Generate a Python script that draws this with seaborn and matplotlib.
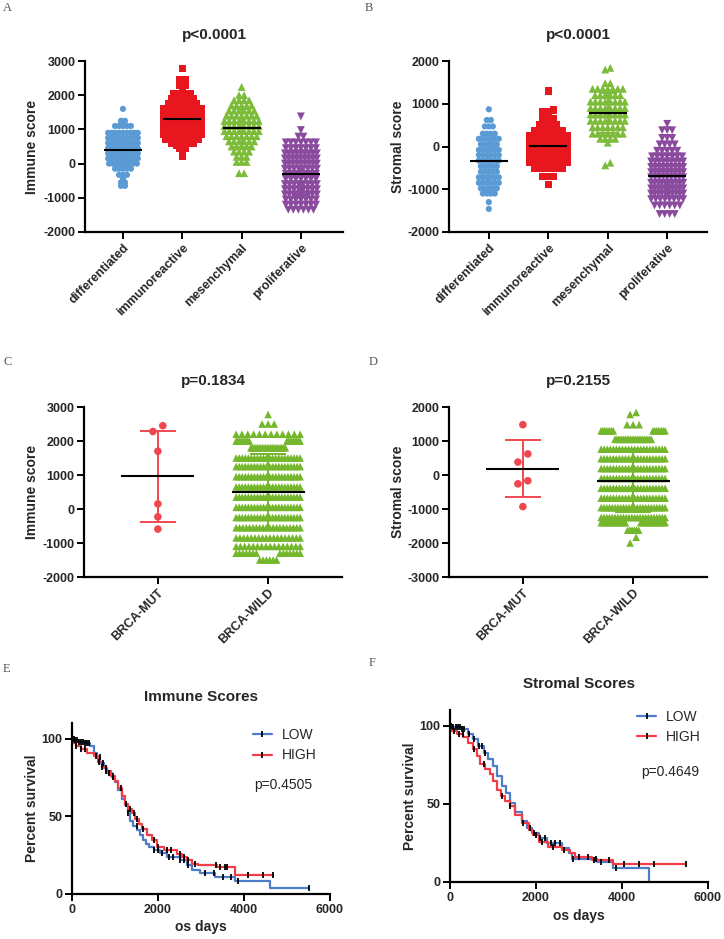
import numpy as np
import matplotlib
matplotlib.use("Agg")
import matplotlib.pyplot as plt
from matplotlib.lines import Line2D
import seaborn as sns

# ---------------- data ----------------
subtypes = ["differentiated", "immunoreactive", "mesenchymal", "proliferative"]
brca_groups = ["BRCA-MUT", "BRCA-WILD"]

# Panel A - immune score, binned rows: level values and number of samples per row
imm_diff_lv = [1600, 1250, 1100, 900, 750, 600, 450, 300, 150, 0, -150, -330, -450, -550, -650]
imm_diff_ct = [1, 2, 5, 9, 9, 9, 9, 9, 9, 8, 5, 3, 1, 2, 2]
imm_immu_lv = [2780, 2460, 2290, 2200, 2050, 1900, 1750, 1600, 1450, 1300, 1150, 1000, 850, 700, 600, 530, 440, 220]
imm_immu_ct = [1, 2, 2, 1, 4, 5, 6, 8, 8, 8, 8, 8, 8, 7, 3, 2, 2, 1]
imm_mes_lv = [2240, 2000, 1850, 1700, 1550, 1400, 1250, 1100, 950, 800, 650, 500, 350, 200, 50, -280]
imm_mes_ct = [1, 2, 4, 5, 6, 7, 8, 8, 8, 7, 6, 5, 4, 3, 3, 2]
imm_pro_lv = [1380, 980, 790, 620, 450, 300, 150, 0, -150, -300, -450, -600, -750, -900, -1050, -1200, -1350]
imm_pro_ct = [1, 1, 2, 7, 7, 9, 9, 9, 8, 7, 7, 8, 8, 8, 7, 7, 6]

# Panel B - stromal score
str_diff_lv = [870, 620, 470, 300, 180, 50, -80, -200, -330, -460, -590, -720, -850, -980, -1100, -1300, -1460]
str_diff_ct = [1, 2, 3, 4, 6, 5, 6, 6, 6, 5, 5, 6, 6, 5, 4, 1, 1]
str_immu_lv = [1300, 850, 820, 650, 500, 380, 250, 120, 0, -120, -250, -380, -500, -700, -890]
str_immu_ct = [1, 1, 2, 3, 4, 6, 8, 8, 8, 8, 8, 8, 6, 3, 1]
str_mes_lv = [1840, 1800, 1480, 1350, 1200, 1050, 900, 750, 600, 450, 300, 180, 90, -380, -440]
str_mes_ct = [1, 1, 2, 7, 6, 8, 8, 8, 8, 7, 7, 4, 1, 1, 1]
str_pro_lv = [530, 380, 200, 50, -100, -230, -350, -480, -600, -720, -850, -980, -1100, -1230, -1380, -1580]
str_pro_ct = [1, 3, 3, 4, 5, 7, 9, 9, 9, 9, 10, 10, 10, 8, 6, 4]

# Panel C - immune score by BRCA status
mut_imm = [2450, 2280, 1700, 150, -230, -590]
wild_imm_lv = [2780, 2500, 2200, 2000, 1800, 1500, 1250, 950, 650, 350, 50, -250, -550, -850, -1100, -1300, -1500]
wild_imm_ct = [1, 3, 12, 18, 22, 22, 22, 22, 22, 22, 22, 22, 20, 18, 16, 14, 6]

# Panel D - stromal score by BRCA status
mut_str = [1480, 620, 380, -170, -260, -930]
wild_str_lv = [1840, 1780, 1480, 1300, 1050, 760, 480, 190, -100, -390, -680, -960, -1250, -1400, -1620, -1830, -2000]
wild_str_ct = [1, 1, 3, 16, 22, 22, 22, 22, 22, 22, 22, 24, 24, 24, 6, 1, 1]

# Panel E - Kaplan-Meier, immune score groups (step times, percent survival, censor times)
E_low_t = [0, 50, 150, 300, 420, 500, 580, 660, 750, 820, 920, 1010, 1080, 1160, 1240, 1300, 1350, 1420,
           1510, 1580, 1660, 1720, 1780, 1900, 2050, 2200, 2500, 2670, 2780, 2980, 3330, 3790, 4605, 5500]
E_low_s = [100, 99, 98, 97, 95, 91, 88, 84, 81, 78, 75, 72, 67, 61, 57, 52, 47, 44,
           41, 38, 35, 32, 30, 28, 26.4, 24, 22, 18.6, 15.4, 13.6, 11, 8.5, 4, 4]
E_low_cens = [40, 80, 120, 170, 210, 260, 300, 350, 400, 650, 720, 780, 870, 950, 1300, 1500, 1900, 2000,
              2100, 2250, 2350, 2500, 2600, 2700, 3100, 3300, 3500, 3700, 3850, 5500]
E_high_t = [0, 30, 100, 200, 350, 500, 600, 700, 800, 900, 1000, 1080, 1160, 1240, 1300, 1400, 1470, 1560,
            1630, 1740, 1860, 1980, 2130, 2440, 2560, 2670, 2790, 2940, 3370, 3800, 4680]
E_high_s = [100, 97, 95, 93, 91, 89, 85, 82, 79, 76, 73, 68, 63, 58, 55, 52, 48, 45,
            42, 38, 34.5, 30, 28, 26, 24, 21.7, 19.6, 18.6, 17.5, 12.2, 12.2]
E_high_cens = [100, 200, 300, 550, 620, 700, 800, 950, 1150, 1250, 1350, 1450, 1500, 1650, 1900, 2000,
               2200, 2300, 2500, 2600, 2700, 2850, 3350, 3450, 3550, 3600, 4100, 4450, 4680]

# Panel F - Kaplan-Meier, stromal score groups
F_low_t = [0, 80, 270, 430, 540, 660, 780, 890, 990, 1090, 1200, 1300, 1400, 1510, 1670, 1790, 1900,
           2060, 2250, 2600, 2760, 2830, 3420, 3800, 4620]
F_low_s = [100, 99, 98, 94.6, 91.4, 87, 82.8, 78.5, 74, 67.7, 61.3, 57, 50.5, 45, 38.7, 34.4, 31.2,
           28, 24.7, 21.5, 18.3, 15, 12.5, 9.2, 0]
F_low_cens = [30, 80, 130, 180, 230, 280, 330, 450, 550, 680, 750, 820, 1850, 1950, 2100, 2200, 2350,
              2450, 2550, 2850, 3400, 3500, 3850]
F_high_t = [0, 40, 155, 310, 430, 540, 620, 700, 815, 930, 1010, 1090, 1190, 1280, 1400, 1510, 1670,
            1830, 1940, 2060, 2290, 2600, 2800, 2910, 3300, 3800, 5480]
F_high_s = [100, 96.8, 94.6, 92.5, 89, 85, 80.6, 75.3, 72, 68.8, 64.5, 59, 54.8, 51.6, 48.4, 43, 37.6,
            33.3, 30, 25.8, 22.6, 20.4, 18.3, 16, 14, 11.8, 11.8]
F_high_cens = [100, 200, 300, 550, 800, 1200, 1400, 1700, 2000, 2150, 2400, 2650, 3000, 3200, 3350,
               3700, 4050, 4400, 4750, 5480]

titles = ["p<0.0001", "p<0.0001", "p=0.1834", "p=0.2155", "Immune Scores", "Stromal Scores"]
km_pvals = ["p=0.4505", "p=0.4649"]
km_labels = ["LOW", "HIGH"]

# ---------------- style ----------------
sns.set_style("ticks")
plt.rcParams["font.family"] = ["Liberation Sans", "DejaVu Sans"]

C_BLUE, C_RED, C_GREEN, C_PURPLE = "#5B9BD5", "#E8161E", "#7DBB3A", "#8A4A9D"
C_MUT, C_WILD = "#F0474F", "#74B72C"
KM_BLUE, KM_RED = "#4F7CC8", "#F23C46"

W, H = 724, 939
fig = plt.figure(figsize=(W / 100, H / 100), dpi=100)


def add_ax(left, top, right, bottom):
    return fig.add_axes([left / W, 1 - bottom / H, (right - left) / W, (bottom - top) / H])


def expand(levels, counts):
    return np.repeat(np.asarray(levels, float), counts)


def swarm_x(vals, center, tol, step, maxhalf):
    vals = np.asarray(vals, float)
    order = np.argsort(vals, kind="stable")
    xs = np.empty(len(vals))
    rows, cur, start = [], [order[0]], vals[order[0]]
    for idx in order[1:]:
        if vals[idx] - start <= tol:
            cur.append(idx)
        else:
            rows.append(cur)
            cur, start = [idx], vals[idx]
    rows.append(cur)
    for r in rows:
        n = len(r)
        s = step if n == 1 else min(step, 2 * maxhalf / (n - 1))
        offs = (np.arange(n) - (n - 1) / 2) * s
        pos = np.argsort(np.abs(offs), kind="stable")
        for k, idx in enumerate(r):
            xs[idx] = center + offs[pos[k]]
    return xs


def base_style(ax):
    sns.despine(ax=ax)
    for sp in ["left", "bottom"]:
        ax.spines[sp].set_linewidth(1.6)
        ax.spines[sp].set_color("black")
    ax.tick_params(axis="both", direction="out", length=5, width=1.4, pad=2, color="black")


def dot_panel(ax, groups, cats, colors, markers, sizes, steps, halves, tol,
              mean_half, cap_half, xlim, ylim, yticks, ylabel, title, ylab_x):
    for i, vals in enumerate(groups):
        xs = swarm_x(vals, i, tol, steps[i], halves[i])
        sns.scatterplot(x=xs, y=vals, ax=ax, color=colors[i], marker=markers[i], s=sizes[i],
                        edgecolor="none", linewidth=0, legend=False, zorder=2)
        m = np.mean(vals)
        sd = np.std(vals, ddof=1)
        ax.vlines(i, m - sd, m + sd, color=colors[i], lw=1.4, zorder=3)
        ax.hlines([m - sd, m + sd], i - cap_half, i + cap_half, color=colors[i], lw=1.4, zorder=3)
        ax.hlines(m, i - mean_half, i + mean_half, color="black", lw=1.5, zorder=4)
    base_style(ax)
    ax.set_xlim(*xlim)
    ax.set_ylim(*ylim)
    ax.set_yticks(yticks)
    ax.set_yticklabels([str(v) for v in yticks], fontsize=9, fontweight="bold")
    ax.set_xticks(range(len(cats)))
    ax.set_xticklabels(cats, rotation=45, ha="right", va="top", rotation_mode="anchor",
                       fontsize=9, fontweight="bold")
    ax.set_xlabel("")
    ax.set_ylabel(ylabel, fontsize=10, fontweight="bold")
    ax.yaxis.set_label_coords(ylab_x, 0.5)
    ax.set_title(title, fontsize=11, fontweight="bold", pad=16)


def step_lookup(t, s, times):
    t = np.asarray(t, float)
    s = np.asarray(s, float)
    idx = np.searchsorted(t, np.asarray(times, float), side="right") - 1
    return s[idx]


def km_panel(ax, curves, title, ptext, ppos, legpos, ylab_x, xlab_y):
    handles = []
    for t, s, cens, color in curves:
        sns.lineplot(x=t, y=s, ax=ax, color=color, lw=1.6, drawstyle="steps-post",
                     estimator=None, sort=False, legend=False)
        ax.plot(cens, step_lookup(t, s, cens), ls="none", marker="|", ms=4, mew=1.3,
                color="black", zorder=4, clip_on=False)
        handles.append(Line2D([0], [0], color=color, lw=1.6, marker="|", mec="black", ms=4, mew=1.3))
    base_style(ax)
    ax.set_xlim(0, 6000)
    ax.set_ylim(0, 110)
    ax.set_xticks([0, 2000, 4000, 6000])
    ax.set_xticklabels(["0", "2000", "4000", "6000"], fontsize=9, fontweight="bold")
    ax.set_yticks([0, 50, 100])
    ax.set_yticklabels(["0", "50", "100"], fontsize=9, fontweight="bold")
    ax.set_xlabel("os days", fontsize=10, fontweight="bold")
    ax.set_ylabel("Percent survival", fontsize=10, fontweight="bold")
    ax.yaxis.set_label_coords(ylab_x, 0.5)
    ax.xaxis.set_label_coords(0.5, xlab_y)
    ax.set_title(title, fontsize=11, fontweight="bold", pad=16)
    ax.legend(handles, km_labels, loc="upper left", bbox_to_anchor=legpos, frameon=False,
              fontsize=10, handlelength=1.4, handletextpad=0.7, labelspacing=0.45,
              borderpad=0, borderaxespad=0, numpoints=1)
    ax.text(ppos[0], ppos[1], ptext, transform=ax.transAxes, ha="left", va="center", fontsize=10)


# ---------------- panels A / B ----------------
sub_colors = [C_BLUE, C_RED, C_GREEN, C_PURPLE]
sub_markers = ["o", "s", "^", "v"]
sub_sizes = [20, 28, 32, 32]
sub_steps = [0.067, 0.093, 0.085, 0.085]
sub_halves = [0.25, 0.32, 0.29, 0.27]

axA = add_ax(85, 61, 343, 232)
imm_groups = [expand(imm_diff_lv, imm_diff_ct), expand(imm_immu_lv, imm_immu_ct),
              expand(imm_mes_lv, imm_mes_ct), expand(imm_pro_lv, imm_pro_ct)]
dot_panel(axA, imm_groups, subtypes, sub_colors, sub_markers, sub_sizes, sub_steps, sub_halves, 70,
          0.32, 0.15, (-0.64, 3.71), (-2000, 3000), [-2000, -1000, 0, 1000, 2000, 3000],
          "Immune score", titles[0], -0.178)

axB = add_ax(449, 61, 707, 232)
str_groups = [expand(str_diff_lv, str_diff_ct), expand(str_immu_lv, str_immu_ct),
              expand(str_mes_lv, str_mes_ct), expand(str_pro_lv, str_pro_ct)]
dot_panel(axB, str_groups, subtypes, sub_colors, sub_markers, sub_sizes, sub_steps, sub_halves, 70,
          0.32, 0.15, (-0.67, 3.67), (-2000, 2000), [-2000, -1000, 0, 1000, 2000],
          "Stromal score", titles[1], -0.171)

# ---------------- panels C / D ----------------
axC = add_ax(84, 407, 342, 577)
dot_panel(axC, [np.asarray(mut_imm, float), expand(wild_imm_lv, wild_imm_ct)], brca_groups,
          [C_MUT, C_WILD], ["o", "^"], [30, 30], [0.09, 0.055], [0.1, 0.29], 200,
          0.33, 0.165, (-0.67, 1.67), (-2000, 3000), [-2000, -1000, 0, 1000, 2000, 3000],
          "Immune score", titles[2], -0.174)

axD = add_ax(449, 407, 707, 577)
dot_panel(axD, [np.asarray(mut_str, float), expand(wild_str_lv, wild_str_ct)], brca_groups,
          [C_MUT, C_WILD], ["o", "^"], [30, 30], [0.09, 0.055], [0.1, 0.29], 250,
          0.33, 0.165, (-0.67, 1.67), (-3000, 2000), [-3000, -2000, -1000, 0, 1000, 2000],
          "Stromal score", titles[3], -0.171)

# ---------------- panels E / F ----------------
axE = add_ax(72, 723, 330, 894)
km_panel(axE, [(E_low_t, E_low_s, E_low_cens, KM_BLUE), (E_high_t, E_high_s, E_high_cens, KM_RED)],
         titles[4], km_pvals[0], (0.705, 0.637), (0.70, 0.97), -0.128, -0.152)

axF = add_ax(450, 710, 708, 882)
km_panel(axF, [(F_low_t, F_low_s, F_low_cens, KM_BLUE), (F_high_t, F_high_s, F_high_cens, KM_RED)],
         titles[5], km_pvals[1], (0.74, 0.64), (0.725, 1.0), -0.128, -0.157)

# ---------------- panel letters ----------------
for letter, (px, py) in zip("ABCDEF", [(3, 8), (365, 8), (3, 362), (369, 362), (3, 669), (369, 663)]):
    fig.text(px / W, 1 - py / H, letter, family=["Liberation Serif", "DejaVu Serif"], fontsize=9,
             color="#555555", ha="left", va="center")

fig.savefig("out.png", dpi=100)
